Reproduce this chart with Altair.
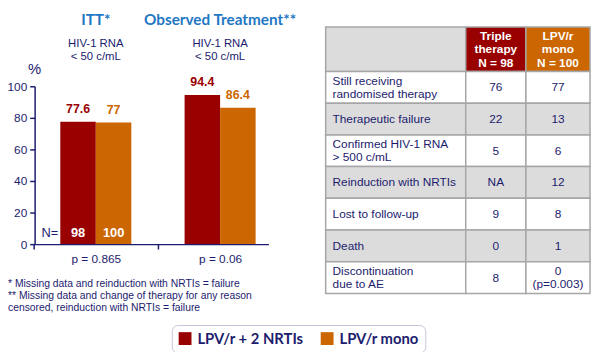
import altair as alt
import pandas as pd

# ---------------- data ----------------
groups = ["ITT*", "Observed Treatment**"]
arms = ["LPV/r + 2 NRTIs", "LPV/r mono"]
itt_values = [77.6, 77]
ot_values = [94.4, 86.4]
n_values = [98, 100]
p_values = ["p = 0.865", "p = 0.06"]
subtitle = "HIV-1 RNA\n< 50 c/mL"
footnotes = [
    "* Missing data and reinduction with NRTIs = failure",
    "** Missing data and change of therapy for any reason",
    "censored, reinduction with NRTIs = failure",
]
y_ticks = [0, 20, 40, 60, 80, 100]

table_header = ["", "Triple\ntherapy\nN = 98", "LPV/r\nmono\nN = 100"]
row_labels = [
    "Still receiving\nrandomised therapy",
    "Therapeutic failure",
    "Confirmed HIV-1 RNA\n> 500 c/mL",
    "Reinduction with NRTIs",
    "Lost to follow-up",
    "Death",
    "Discontinuation\ndue to AE",
]
triple_col = ["76", "22", "5", "NA", "9", "0", "8"]
mono_col = ["77", "13", "6", "12", "8", "1", "0\n(p=0.003)"]

# ---------------- style ----------------
RED = "#990000"
ORANGE = "#cc6600"
NAVY = "#1c1c6e"
BLUE = "#1f78c4"
GRID = "#a6a6a6"
GREY = "#dcdcdc"
SANS = "Liberation Sans"
BOLD = "Lato"
LH = 13

# ---------------- tables ----------------
bars_df = pd.DataFrame(
    [
        {"group": g, "arm": a, "value": v, "label": f"{v:g}"}
        for g, vals in zip(groups, [itt_values, ot_values])
        for a, v in zip(arms, vals)
    ]
)
n_df = pd.DataFrame({"group": groups[0], "arm": arms, "n": [str(n) for n in n_values]})
titles_df = pd.DataFrame({"group": groups, "sub": [subtitle] * len(groups)})

cells = []
body = [row_labels, triple_col, mono_col]
for r in range(len(row_labels) + 1):
    for c in range(3):
        if r == 0:
            kind = f"h{c}"
            text = table_header[c]
        else:
            kind = "odd" if r % 2 == 1 else "even"
            text = body[c][r - 1]
        cells.append({"x": c, "x2": c + 1, "xc": c + 0.5, "y": r, "y2": r + 1,
                      "yc": r + 0.5, "row": r, "col": c, "kind": kind, "text": text,
                      "nl": text.count("\n") + 1})
cells_df = pd.DataFrame(cells)

# ---------------- bar chart ----------------
x_scale = alt.Scale(domain=groups, range=[0, 237], paddingInner=0.4286,
                    paddingOuter=0.1548, align=0.667)
label_expr = f"datum.value == '{groups[0]}' ? '{p_values[0]}' : '{p_values[1]}'"
x_axis = alt.Axis(title=None, labelExpr=label_expr, labelFont=SANS, labelFontSize=12,
                  labelColor=NAVY, domainColor=NAVY, domainWidth=1.5, tickColor=NAVY,
                  tickWidth=1.5, tickSize=5, tickOffset=-63, labelOffset=63,
                  labelAlign="center", labelPadding=5, labelAngle=0)
X = alt.X("group:N", scale=x_scale, axis=x_axis, sort=groups)
XO = alt.XOffset("arm:N", scale=alt.Scale(domain=arms, paddingInner=0, paddingOuter=0))
y_scale = alt.Scale(domain=[0, 100], range=[233, 73], nice=False)
y_axis = alt.Axis(title=None, values=y_ticks, grid=False, labelFont=SANS, labelFontSize=12,
                  labelColor=NAVY, domainColor=NAVY, domainWidth=1.5, tickColor=NAVY,
                  tickWidth=1.5, tickSize=5, labelPadding=3)
Y = alt.Y("value:Q", scale=y_scale, axis=y_axis)
color_scale = alt.Scale(domain=arms, range=[RED, ORANGE])

bars = alt.Chart(bars_df).mark_bar().encode(
    x=X, xOffset=XO, y=Y,
    color=alt.Color("arm:N", scale=color_scale, sort=arms, legend=alt.Legend(
        orient="none", legendX=139, legendY=315, direction="horizontal", title=None,
        symbolType="square", symbolSize=169, symbolStrokeWidth=0,
        labelFont=BOLD, labelFontWeight="bold", labelFontSize=15, labelColor=NAVY,
        padding=6, fillColor="white", strokeColor="#c4c4d8", cornerRadius=6,
        columnPadding=16, labelOffset=5, labelLimit=300)),
)

value_text = alt.Chart(bars_df).mark_text(
    baseline="bottom", dy=-6, font=SANS, fontWeight="bold", fontSize=12.5
).encode(x=X, xOffset=XO, y=Y, text="label:N",
         color=alt.Color("arm:N", scale=color_scale, legend=None))

n_text = alt.Chart(n_df).mark_text(
    baseline="middle", dy=-11, font=SANS, fontWeight="bold", fontSize=13, color="white"
).encode(x=X, xOffset=XO, y=alt.Y(datum=0, type="quantitative", scale=y_scale, axis=y_axis),
         text="n:N")

n_eq = alt.Chart(pd.DataFrame({"t": ["N="]})).mark_text(
    baseline="middle", align="right", dx=-38, dy=-11, font=SANS, fontSize=13, color=NAVY
).encode(x=alt.X(datum=groups[0], type="nominal", scale=x_scale, axis=x_axis),
         y=alt.Y(datum=0, type="quantitative", scale=y_scale, axis=y_axis), text="t:N")

titles = alt.Chart(titles_df).mark_text(
    baseline="alphabetic", font=BOLD, fontWeight="bold", fontSize=15.5, color=BLUE
).encode(x=X, y=alt.value(11), text="group:N")

subs = alt.Chart(titles_df).mark_text(
    baseline="middle", font=SANS, fontSize=11.5, color=NAVY, lineBreak="\n", lineHeight=13
).encode(x=X, y=alt.value(30.5), text="sub:N")

bar_layer = alt.layer(bars, value_text, n_text, n_eq, titles, subs)

# ---------------- table ----------------
tx = alt.Scale(domain=[0, 1, 2, 3], range=[295, 437, 498, 563], nice=False, zero=False)
ty = alt.Scale(domain=[0, 1, 8], range=[13, 58, 283], nice=False, zero=False)

rects = alt.Chart(cells_df).mark_rect(stroke=GRID, strokeWidth=1.5).encode(
    x=alt.X("x:Q", scale=tx, axis=None), x2="x2:Q",
    y=alt.Y("y:Q", scale=ty, axis=None), y2="y2:Q",
    fill=alt.Fill("kind:N", scale=alt.Scale(domain=["h0", "h1", "h2", "odd", "even"],
                                            range=[GREY, RED, ORANGE, "white", GREY]),
                  legend=None),
)


def cell_text(cond, xfield, lh=LH, **style):
    layers = []
    for nl in (1, 2, 3):
        layers.append(
            alt.Chart(cells_df)
            .transform_filter(f"({cond}) && datum.nl == {nl}")
            .mark_text(baseline="middle", lineBreak="\n", lineHeight=lh,
                       dy=-(nl - 1) * lh / 2, **style)
            .encode(x=alt.X(f"{xfield}:Q", scale=tx, axis=None),
                    y=alt.Y("yc:Q", scale=ty, axis=None), text="text:N")
        )
    return layers


head_text = cell_text("datum.row == 0 && datum.col > 0", "xc", lh=13.5, font=SANS,
                      fontWeight="bold", fontSize=12, color="white")
label_text = cell_text("datum.row > 0 && datum.col == 0", "x", align="left", dx=7, font=SANS,
                       fontSize=12, color=NAVY)
num_text = cell_text("datum.row > 0 && datum.col > 0", "xc", font=SANS, fontSize=12, color=NAVY)

table_layer = alt.layer(rects, *head_text, *label_text, *num_text)

# ---------------- annotations ----------------
pct = alt.Chart(pd.DataFrame({"t": ["%"]})).mark_text(
    baseline="middle", font=SANS, fontSize=15, color=NAVY
).encode(x=alt.value(0), y=alt.value(56), text="t:N")
foot = alt.Chart(pd.DataFrame({"t": ["\n".join(footnotes)]})).mark_text(
    baseline="middle", align="left", font=SANS, fontSize=10.5, color=NAVY,
    lineBreak="\n", lineHeight=12.5
).encode(x=alt.value(-27), y=alt.value(273), text="t:N")

chart = alt.layer(bar_layer, table_layer, pct, foot).resolve_scale(
    x="independent", y="independent", color="independent", fill="independent"
).properties(
    width=565, height=233,
    autosize=alt.AutoSizeParams(type="none"),
    padding={"left": 27, "top": 4, "right": 0, "bottom": 107},
).configure_view(stroke="transparent")

chart.save("out.html", embed_options={"renderer": "svg", "actions": False})
